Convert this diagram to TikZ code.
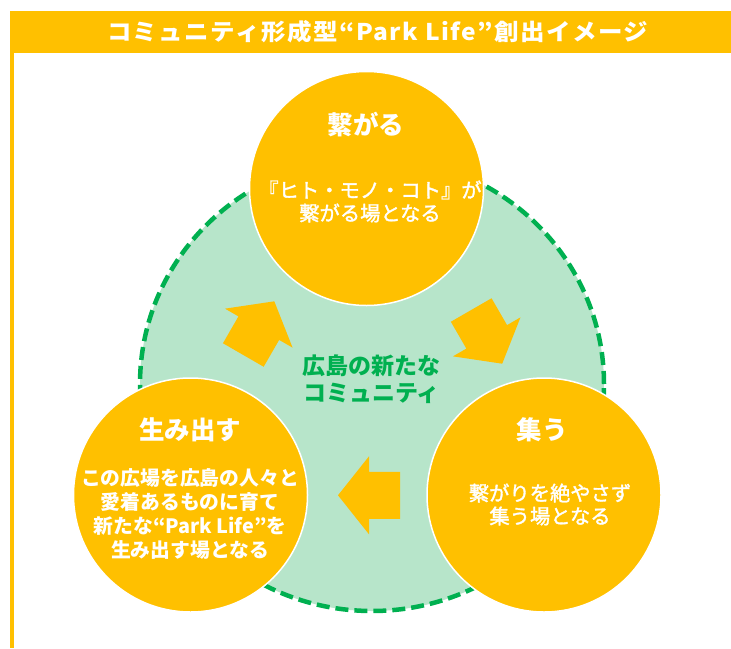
\documentclass[tikz,border=0pt]{standalone}
\usepackage{fontspec}
\newfontfamily\jp{Noto Sans CJK JP}
\newfontfamily\jpm[FakeBold=1.6]{Noto Sans CJK JP}
\definecolor{gold}{HTML}{FFC000}
\definecolor{grn}{HTML}{00B050}
\definecolor{lgrn}{RGB}{183,229,202}
\newsavebox\ttlbox
\newlength\ttlw
\begin{document}
\sbox\ttlbox{\color{white}\jp\bfseries\fontsize{23}{23}\selectfont\addfontfeature{LetterSpace=6}コミュニティ形成型“Park Life”創出イメージ}%
\setlength\ttlw{\wd\ttlbox}%
\pgfmathsetmacro\tsx{541/\ttlw}%
\begin{tikzpicture}[x=1pt,y=-1pt,
  bigc/.style={circle, fill=gold, draw=white, line width=1.5pt, minimum size=234pt, inner sep=0pt},
  headtxt/.style={text=white, inner sep=0pt, font=\jp\bfseries\fontsize{25.5}{28}\selectfont},
  bodytxt/.style={text=white, inner sep=0pt, align=center, font=\jpm\fontsize{20.3}{23}\selectfont},
  bodybold/.style={text=white, inner sep=0pt, align=center, font=\jp\bfseries\fontsize{19.8}{24}\selectfont},
  centtxt/.style={text=grn, inner sep=0pt, align=center, font=\jp\bfseries\fontsize{23}{27}\selectfont},
  blockarr/.pic={\fill[gold] (0,-23.5) -- (31,-23.5) -- (31,-39) -- (62,0) -- (31,39) -- (31,23.5) -- (0,23.5) -- cycle;}
]
\useasboundingbox (0,0) rectangle (731,648);
\fill[white] (0,0) rectangle (731,648);
% frame
\fill[gold] (10,11) rectangle (731,53);
\fill[gold] (10,53) rectangle (14,648);
\node[inner sep=0pt, text=white] (title) at (377.5,32) {\scalebox{\tsx}[1]{\usebox\ttlbox}};
% community circle
\draw[grn, fill=lgrn, line width=4.5pt, dash pattern=on 13pt off 6pt] (372,384) ellipse [x radius=232pt, y radius=227pt];
% arrows
\pic[rotate=60] at (243.3,355) {blockarr};
\pic[rotate=-60] at (471.2,310) {blockarr};
\pic[rotate=180] at (400,495.3) {blockarr};
% circles
\node[bigc] (top) at (366.5,188.5) {};
\node[bigc] (left) at (190.5,495) {};
\node[bigc] (right) at (544,495) {};
% texts
\node[headtxt] (tophead) at (366,125) {繋がる};
\node[bodytxt] (topbody) at (370,201.5) {『ヒト・モノ・コト』が\\繋がる場となる};
\node[headtxt] (lefthead) at (190,430) {生み出す};
\node[bodybold] (leftbody) at (190,514) {この広場を広島の人々と\\愛着あるものに育て\\新たな“Park Life”を\\生み出す場となる};
\node[headtxt] (righthead) at (542,430) {集う};
\node[bodytxt] (rightbody) at (550,504.5) {繋がりを絶やさず\\集う場となる};
\node[centtxt] (center) at (371.5,379.5) {広島の新たな\\コミュニティ};
\end{tikzpicture}
\end{document}
